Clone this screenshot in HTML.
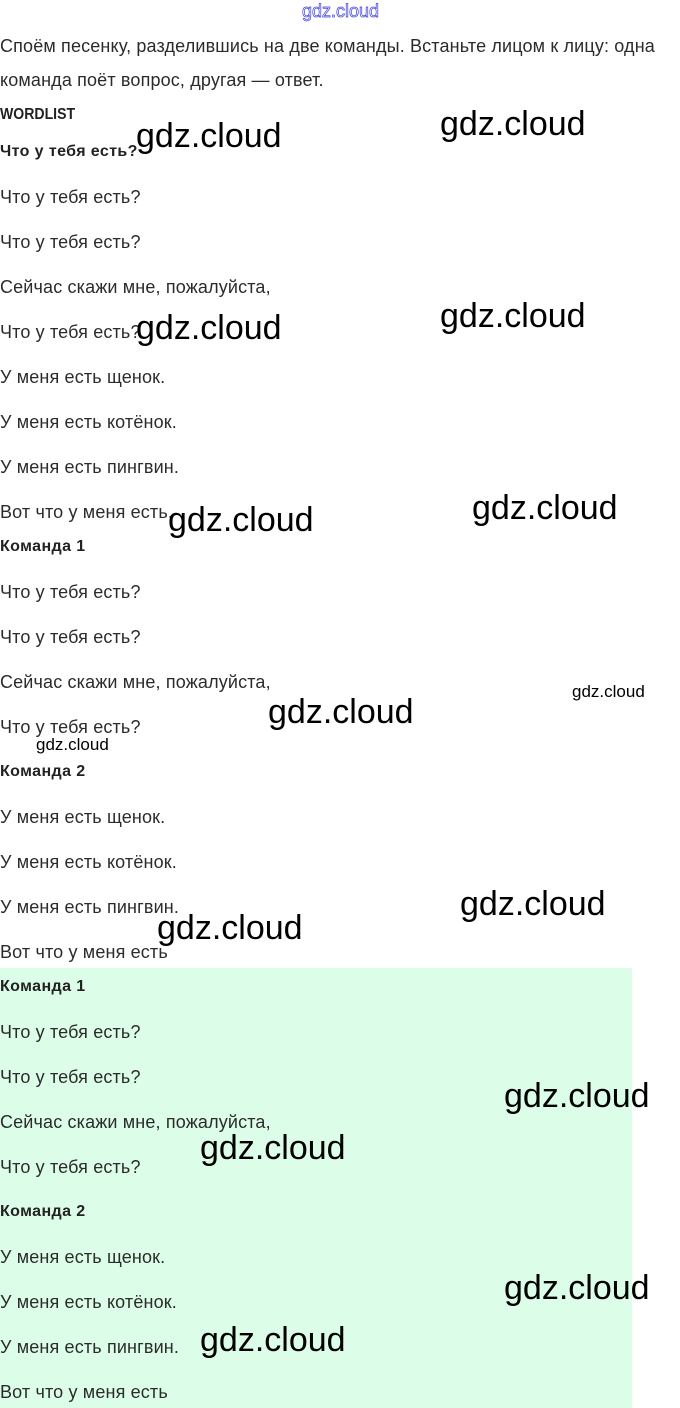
<!DOCTYPE html>
<html><head><meta charset="utf-8"><style>
html,body{margin:0;padding:0;background:#fff;}
body{width:680px;height:1408px;position:relative;overflow:hidden;font-family:"Liberation Sans",sans-serif;}
.t{position:absolute;left:0;height:20px;line-height:20px;font-size:18px;letter-spacing:0.15px;color:#2b2b2b;white-space:nowrap;margin-top:1px;}
.b{font-weight:bold;font-size:16px;letter-spacing:0.4px;color:#222;}
.w{position:absolute;font-size:34px;line-height:40px;height:40px;color:#000;white-space:nowrap;font-family:"Liberation Sans",sans-serif;margin-top:1px;}
.s{position:absolute;font-size:17px;line-height:20px;color:#000;white-space:nowrap;}
#green{position:absolute;left:0;top:968px;width:632px;height:440px;background:#dcfde8;}
</style></head><body>
<div id="green"></div>
<div class="s" style="left:302px;top:1px;font-size:18px;color:#fff;-webkit-text-stroke:0.7px #3b3bd8;">gdz.cloud</div>

<div class="t" style="top:35px">Споём песенку, разделившись на две команды. Встаньте лицом к лицу: одна</div>
<div class="t" style="top:69px">команда поёт вопрос, другая — ответ.</div>
<div class="t b" style="top:104px;transform:scaleX(0.88);transform-origin:0 0;letter-spacing:0">WORDLIST</div>
<div class="t b" style="top:141px">Что у тебя есть?</div>
<div class="t" style="top:186px">Что у тебя есть?</div>
<div class="t" style="top:231px">Что у тебя есть?</div>
<div class="t" style="top:276px">Сейчас скажи мне, пожалуйста,</div>
<div class="t" style="top:321px">Что у тебя есть?</div>
<div class="t" style="top:366px">У меня есть щенок.</div>
<div class="t" style="top:411px">У меня есть котёнок.</div>
<div class="t" style="top:456px">У меня есть пингвин.</div>
<div class="t" style="top:501px">Вот что у меня есть.</div>
<div class="t b" style="top:536px">Команда 1</div>
<div class="t" style="top:581px">Что у тебя есть?</div>
<div class="t" style="top:626px">Что у тебя есть?</div>
<div class="t" style="top:671px">Сейчас скажи мне, пожалуйста,</div>
<div class="t" style="top:716px">Что у тебя есть?</div>
<div class="t b" style="top:761px">Команда 2</div>
<div class="t" style="top:806px">У меня есть щенок.</div>
<div class="t" style="top:851px">У меня есть котёнок.</div>
<div class="t" style="top:896px">У меня есть пингвин.</div>
<div class="t" style="top:941px">Вот что у меня есть</div>
<div class="t b" style="top:976px">Команда 1</div>
<div class="t" style="top:1021px">Что у тебя есть?</div>
<div class="t" style="top:1066px">Что у тебя есть?</div>
<div class="t" style="top:1111px">Сейчас скажи мне, пожалуйста,</div>
<div class="t" style="top:1156px">Что у тебя есть?</div>
<div class="t b" style="top:1201px">Команда 2</div>
<div class="t" style="top:1246px">У меня есть щенок.</div>
<div class="t" style="top:1291px">У меня есть котёнок.</div>
<div class="t" style="top:1336px">У меня есть пингвин.</div>
<div class="t" style="top:1381px">Вот что у меня есть</div>

<div class="w" style="left:136px;top:115px">gdz.cloud</div>
<div class="w" style="left:440px;top:103px">gdz.cloud</div>
<div class="w" style="left:136px;top:307px">gdz.cloud</div>
<div class="w" style="left:440px;top:295px">gdz.cloud</div>
<div class="w" style="left:168px;top:499px">gdz.cloud</div>
<div class="w" style="left:472px;top:487px">gdz.cloud</div>
<div class="w" style="left:268px;top:691px">gdz.cloud</div>
<div class="s" style="left:572px;top:682px">gdz.cloud</div>
<div class="s" style="left:36px;top:735px">gdz.cloud</div>
<div class="w" style="left:460px;top:883px">gdz.cloud</div>
<div class="w" style="left:157px;top:907px">gdz.cloud</div>
<div class="w" style="left:504px;top:1075px">gdz.cloud</div>
<div class="w" style="left:200px;top:1127px">gdz.cloud</div>
<div class="w" style="left:504px;top:1267px">gdz.cloud</div>
<div class="w" style="left:200px;top:1319px">gdz.cloud</div>
</body></html>
